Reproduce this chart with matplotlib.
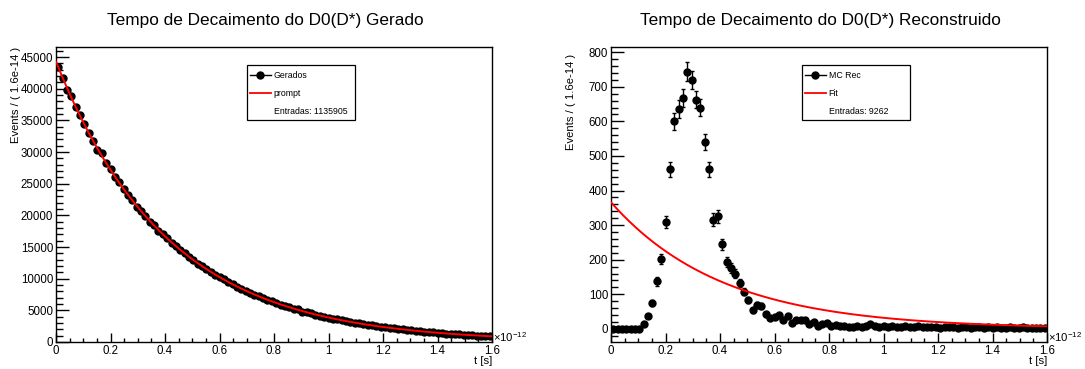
import numpy as np
import matplotlib
matplotlib.use("Agg")
import matplotlib.pyplot as plt
from matplotlib.ticker import MultipleLocator, FuncFormatter
from matplotlib.patches import Rectangle
from matplotlib.lines import Line2D

plt.rcParams['font.family'] = ['Liberation Sans', 'DejaVu Sans']
plt.rcParams['mathtext.fontset'] = 'custom'
plt.rcParams['mathtext.rm'] = 'Liberation Sans'

# Binning of the decay time (units of 1e-12 s)
t_min, t_max, n_bins = 0.0, 1.6, 100

# Generated decay times (counts per bin)
gen_counts = [
    43400, 41700, 39800, 38800, 37200, 35800, 34500, 33000, 31800, 30300,
    29800, 28300, 27300, 26100, 25200, 24200, 23300, 22400, 21300, 20700,
    19900, 19000, 18500, 17600, 17000, 16400, 15700, 15100, 14600, 14000,
    13400, 12950, 12400, 12000, 11500, 11050, 10600, 10200, 9900, 9450,
    9100, 8750, 8400, 8100, 7800, 7480, 7200, 6900, 6650, 6420,
    6150, 5920, 5700, 5480, 5260, 5150, 4800, 4680, 4510, 4330,
    4160, 4010, 3850, 3700, 3570, 3420, 3300, 3160, 3050, 2940,
    2820, 2700, 2610, 2520, 2400, 2330, 2230, 2140, 2070, 1980,
    1910, 1830, 1770, 1690, 1640, 1570, 1510, 1450, 1400, 1340,
    1290, 1240, 1200, 1150, 1100, 1060, 1020, 985, 945, 910,
]

# Reconstructed decay times (counts per bin)
rec_counts = [
    0, 0, 0, 0, 0, 0, 1, 15, 38, 75,
    137, 203, 310, 461, 600, 636, 668, 743, 720, 663,
    640, 540, 462, 316, 325, 244, 194, 176, 160, 132,
    108, 84, 54, 69, 66, 42, 32, 33, 39, 26,
    37, 16, 25, 27, 25, 14, 20, 9, 14, 16,
    8, 10, 8, 7, 5, 6, 8, 5, 9, 13,
    8, 6, 7, 5, 8, 6, 4, 7, 5, 6,
    8, 5, 4, 6, 5, 3, 6, 4, 5, 3,
    4, 6, 3, 4, 5, 2, 4, 3, 5, 2,
    3, 4, 2, 3, 4, 2, 3, 2, 3, 2,
]

# Fitted exponential models: normalisation and lifetime (1e-12 s)
gen_fit_norm, gen_fit_tau = 44300.0, 0.41
rec_fit_norm, rec_fit_tau = 366.0, 0.41

gen_entries = 1135905
rec_entries = 9262

titles = ["Tempo de Decaimento do D0(D*) Gerado",
          "Tempo de Decaimento do D0(D*) Reconstruido"]
data_labels = ["Gerados", "MC Rec"]
fit_labels = ["prompt", "Fit"]

edges = np.linspace(t_min, t_max, n_bins + 1)
centers = 0.5 * (edges[:-1] + edges[1:])
t_fine = np.linspace(t_min, t_max, 500)

W, H = 1085, 369
fig = plt.figure(figsize=(W / 100, H / 100), dpi=100)

ax_w, ax_h = 436, 295
ax_bottom = 342
panels = [
    dict(left=56, counts=gen_counts, norm=gen_fit_norm, tau=gen_fit_tau,
         ylim=(0, 46600), major=5000, minor=1000, entries=gen_entries,
         title_x=265, ylab_y=1.0),
    dict(left=611, counts=rec_counts, norm=rec_fit_norm, tau=rec_fit_tau,
         ylim=(-38, 815), major=100, minor=20, entries=rec_entries,
         title_x=820, ylab_y=0.975),
]

fmt = FuncFormatter(lambda v, _: f"{v:g}")
lab_fs = 8.3
leg_fs = 6.3

for i, p in enumerate(panels):
    ax = fig.add_axes([p['left'] / W, (H - ax_bottom) / H, ax_w / W, ax_h / H])
    counts = np.array(p['counts'], dtype=float)
    ax.errorbar(centers, counts, yerr=np.sqrt(counts), fmt='o', color='black',
                ms=5, elinewidth=1.0, capsize=1.5, capthick=1.0, zorder=3)
    ax.plot(t_fine, p['norm'] * np.exp(-t_fine / p['tau']), color='#ff0000',
            lw=1.4, zorder=4)

    ax.set_xlim(t_min, t_max)
    ax.set_ylim(*p['ylim'])
    ax.xaxis.set_major_locator(MultipleLocator(0.2))
    ax.xaxis.set_minor_locator(MultipleLocator(0.05))
    ax.yaxis.set_major_locator(MultipleLocator(p['major']))
    ax.yaxis.set_minor_locator(MultipleLocator(p['minor']))
    ax.xaxis.set_major_formatter(fmt)
    ax.yaxis.set_major_formatter(fmt)
    ax.tick_params(axis='x', which='major', direction='in', length=6.5,
                   width=1.0, labelsize=lab_fs, pad=2.5)
    ax.tick_params(axis='x', which='minor', direction='in', length=3.2, width=1.0)
    ax.tick_params(axis='y', which='major', direction='in', length=9.4,
                   width=1.0, labelsize=lab_fs, pad=2)
    ax.tick_params(axis='y', which='minor', direction='in', length=4.7, width=1.0)
    for s in ax.spines.values():
        s.set_linewidth(1.0)
        s.set_color('black')

    ax.set_ylabel("Events / ( 1.6e-14 )", fontsize=8.1)
    ax.yaxis.set_label_coords(-0.080, p['ylab_y'])
    ax.yaxis.label.set_horizontalalignment('right')

    ax.text(1.002, 0.017, r'$\mathregular{\times10^{-12}}$', transform=ax.transAxes,
            ha='left', va='center', fontsize=8.1)
    fig.text((p['left'] + ax_w) / W, 1 - 356 / H, "t [s]", ha='right', va='top',
             fontsize=8.1)
    fig.text(p['title_x'] / W, 1 - 20 / H, titles[i], ha='center', va='center',
             fontsize=12.4)

    # Legend box
    x0, x1, y0, y1 = 0.437, 0.686, 0.753, 0.939
    ax.add_patch(Rectangle((x0, y0), x1 - x0, y1 - y0, transform=ax.transAxes,
                           facecolor='white', edgecolor='black', lw=0.9, zorder=6))
    rows = [0.905, 0.843, 0.781]
    hx0, hx1, tx = 0.446, 0.492, 0.499
    ax.add_line(Line2D([hx0, hx1], [rows[0]] * 2, transform=ax.transAxes,
                       color='black', lw=1.0, zorder=7))
    ax.add_line(Line2D([(hx0 + hx1) / 2], [rows[0]], transform=ax.transAxes,
                       color='black', marker='o', ms=5, zorder=7))
    ax.add_line(Line2D([hx0, hx1], [rows[1]] * 2, transform=ax.transAxes,
                       color='#ff0000', lw=1.3, zorder=7))
    ax.text(tx, rows[0], data_labels[i], transform=ax.transAxes, ha='left',
            va='center', fontsize=leg_fs, zorder=8)
    ax.text(tx, rows[1], fit_labels[i], transform=ax.transAxes, ha='left',
            va='center', fontsize=leg_fs, zorder=8)
    ax.text(tx, rows[2], f"Entradas: {p['entries']}", transform=ax.transAxes,
            ha='left', va='center', fontsize=leg_fs, zorder=8)

fig.savefig("out.png", dpi=100)
